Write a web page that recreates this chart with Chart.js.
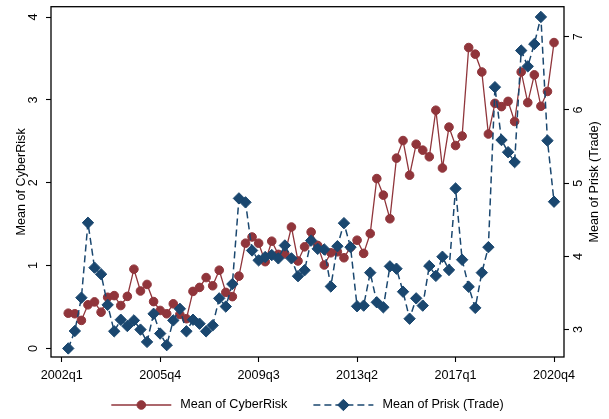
<!DOCTYPE html>
<html>
<head>
<meta charset="utf-8">
<script src="https://cdn.jsdelivr.net/npm/chart.js@4.4.1/dist/chart.umd.min.js"></script>
<style>
  html, body { margin: 0; padding: 0; background: #ffffff; }
  #wrap { width: 609px; height: 419px; }
</style>
</head>
<body>
<div id="wrap"><canvas id="chart" width="609" height="419"></canvas></div>
<script>
// Quarterly periods on the time axis (index 0 = 2002q1)
const quarters = [
  '2002q1','2002q2','2002q3','2002q4','2003q1','2003q2','2003q3','2003q4',
  '2004q1','2004q2','2004q3','2004q4','2005q1','2005q2','2005q3','2005q4',
  '2006q1','2006q2','2006q3','2006q4','2007q1','2007q2','2007q3','2007q4',
  '2008q1','2008q2','2008q3','2008q4','2009q1','2009q2','2009q3','2009q4',
  '2010q1','2010q2','2010q3','2010q4','2011q1','2011q2','2011q3','2011q4',
  '2012q1','2012q2','2012q3','2012q4','2013q1','2013q2','2013q3','2013q4',
  '2014q1','2014q2','2014q3','2014q4','2015q1','2015q2','2015q3','2015q4',
  '2016q1','2016q2','2016q3','2016q4','2017q1','2017q2','2017q3','2017q4',
  '2018q1','2018q2','2018q3','2018q4','2019q1','2019q2','2019q3','2019q4',
  '2020q1','2020q2','2020q3','2020q4'
];

// Labelled quarters on the x axis
const xTickLabels = ['2002q1','2005q4','2009q3','2013q2','2017q1','2020q4'];

// Mean of CyberRisk per quarter (no observation for 2002q1)
const cyberRisk = [
  null,
  0.425, 0.418, 0.338, 0.526, 0.561, 0.437, 0.617, 0.637, 0.517, 0.628,
  0.956, 0.693, 0.772, 0.565, 0.458, 0.418, 0.538, 0.410, 0.358, 0.688,
  0.736, 0.855, 0.756, 0.944, 0.676, 0.625, 0.872, 1.270, 1.345, 1.270,
  1.047, 1.294, 1.135, 1.142, 1.465, 1.055, 1.226, 1.405, 1.243, 1.007,
  1.154, 1.166, 1.094, 1.222, 1.306, 1.147, 1.386, 2.050, 1.850, 1.565,
  2.297, 2.509, 2.091, 2.465, 2.393, 2.313, 2.875, 2.178, 2.671, 2.449,
  2.564, 3.632, 3.552, 3.337, 2.588, 2.958, 2.919, 2.982, 2.739, 3.337,
  2.967, 3.302, 2.923, 3.102, 3.692
];

// Mean of Prisk (Trade) per quarter (no observation for 2002q1)
const priskTrade = [
  null,
  2.743, 2.981, 3.436, 4.459, 3.846, 3.757, 3.338, 2.977, 3.135, 3.049,
  3.126, 3.000, 2.832, 3.216, 2.946, 2.788, 3.126, 3.284, 2.977, 3.135,
  3.081, 2.977, 3.058, 3.427, 3.315, 3.622, 4.792, 4.738, 4.081, 3.946,
  3.991, 4.018, 3.973, 4.149, 3.973, 3.730, 3.811, 4.216, 4.103, 4.095,
  3.589, 4.139, 4.454, 4.126, 3.319, 3.328, 3.778, 3.373, 3.305, 3.864,
  3.832, 3.518, 3.149, 3.427, 3.328, 3.869, 3.734, 3.995, 3.815, 4.927,
  3.954, 3.585, 3.297, 3.778, 4.126, 6.311, 5.589, 5.423, 5.288, 6.811,
  6.595, 6.900, 7.270, 5.581, 4.747
];

// Axis tick values
const leftTicks = [0, 1, 2, 3, 4];
const rightTicks = [3, 4, 5, 6, 7];

const RED = '#90353B';
const BLUE = '#1A476F';
const FONT = '"Liberation Sans", Arial, Helvetica, sans-serif';
const FS = 12.6;

Chart.defaults.font.family = FONT;
Chart.defaults.font.size = FS;
Chart.defaults.color = '#000000';

const toPoints = arr => arr.map((v, i) => ({ x: i, y: v })).filter(p => p.y !== null);

const fixedTicks = list => scale => { scale.ticks = list.map(v => ({ value: v })); };

// Pin an axis box to a fixed thickness and drop the edge padding its labels ask for
const pinBox = size => s => {
  if (s.isHorizontal()) { s.height = size; } else { s.width = size; }
  s.paddingTop = 0; s.paddingBottom = 0; s.paddingLeft = 0; s.paddingRight = 0;
};

const tickGrid = {
  display: true,
  drawOnChartArea: false,
  drawTicks: true,
  tickLength: 5,
  tickWidth: 1.1,
  tickColor: '#000000'
};

// Frame around the plot region, axis titles and a line+marker legend
const decorations = {
  id: 'decorations',
  beforeDatasetsDraw(chart) {
    const { ctx, chartArea: a } = chart;
    ctx.save();
    ctx.strokeStyle = '#000000';
    ctx.lineWidth = 1.3;
    ctx.strokeRect(a.left, a.top, a.right - a.left, a.bottom - a.top);
    ctx.restore();
  },
  afterDraw(chart) {
    const { ctx, chartArea: a } = chart;
    const midY = (a.top + a.bottom) / 2;
    ctx.save();
    ctx.fillStyle = '#000000';
    ctx.font = FS + 'px ' + FONT;
    ctx.textAlign = 'center';
    ctx.textBaseline = 'middle';

    // Axis titles, both reading upward
    const yl = chart.scales.y;
    const yr = chart.scales.y1;
    [[yl.left + 22, 'Mean of CyberRisk'], [yr.right - 14, 'Mean of Prisk (Trade)']].forEach(([x, t]) => {
      ctx.save();
      ctx.translate(x, midY);
      ctx.rotate(-Math.PI / 2);
      ctx.fillText(t, 0, 0);
      ctx.restore();
    });

    // Legend, in series order
    const items = chart.data.datasets
      .slice()
      .sort((p, q) => p.legendRank - q.legendRank);
    const lineLen = 60, gapText = 9, gapItem = 26;
    const widths = items.map(d => ctx.measureText(d.label).width);
    const total = items.reduce((s, d, i) => s + lineLen + gapText + widths[i], 0) + gapItem * (items.length - 1);
    let x = (a.left + a.right) / 2 - total / 2;
    const ly = a.bottom + 48;
    items.forEach((d, i) => {
      ctx.save();
      ctx.strokeStyle = d.borderColor;
      ctx.lineWidth = d.borderWidth;
      ctx.setLineDash(d.borderDash || []);
      ctx.beginPath();
      ctx.moveTo(x, ly);
      ctx.lineTo(x + lineLen, ly);
      ctx.stroke();
      ctx.restore();

      ctx.save();
      ctx.fillStyle = d.pointBackgroundColor;
      ctx.strokeStyle = d.pointBorderColor;
      ctx.lineWidth = 1;
      Chart.helpers.drawPoint(ctx, { pointStyle: d.pointStyle, radius: d.pointRadius, borderWidth: 1 }, x + lineLen / 2, ly);
      ctx.restore();

      ctx.textAlign = 'left';
      ctx.fillStyle = '#000000';
      ctx.fillText(d.label, x + lineLen + gapText, ly);
      x += lineLen + gapText + widths[i] + gapItem;
    });
    ctx.restore();
  }
};

new Chart(document.getElementById('chart'), {
  type: 'line',
  data: {
    datasets: [
      {
        label: 'Mean of Prisk (Trade)',
        legendRank: 2,
        data: toPoints(priskTrade),
        yAxisID: 'y1',
        borderColor: BLUE,
        backgroundColor: BLUE,
        borderWidth: 1.5,
        borderDash: [7, 4],
        pointStyle: 'rectRot',
        pointRadius: 5.7,
        pointBackgroundColor: BLUE,
        pointBorderColor: BLUE,
        pointBorderWidth: 1,
        tension: 0,
        order: 0
      },
      {
        label: 'Mean of CyberRisk',
        legendRank: 1,
        data: toPoints(cyberRisk),
        yAxisID: 'y',
        borderColor: RED,
        backgroundColor: RED,
        borderWidth: 1.3,
        pointStyle: 'circle',
        pointRadius: 4.3,
        pointBackgroundColor: RED,
        pointBorderColor: RED,
        pointBorderWidth: 1,
        tension: 0,
        order: 1
      }
    ]
  },
  options: {
    responsive: false,
    devicePixelRatio: 1,
    animation: false,
    events: [],
    layout: { padding: { top: 3, bottom: 32, left: 0, right: 0 } },
    plugins: {
      legend: { display: false },
      tooltip: { enabled: false }
    },
    scales: {
      x: {
        type: 'linear',
        position: 'bottom',
        min: -1.63,
        max: 76.52,
        afterBuildTicks: fixedTicks(xTickLabels.map(l => quarters.indexOf(l))),
        afterFit: pinBox(30),
        ticks: {
          autoSkip: false,
          maxRotation: 0,
          padding: 6,
          color: '#000000',
          callback: v => quarters[v]
        },
        grid: tickGrid,
        border: { display: false }
      },
      y: {
        type: 'linear',
        position: 'left',
        min: -0.104,
        max: 4.125,
        afterBuildTicks: fixedTicks(leftTicks),
        afterFit: pinBox(51),
        ticks: {
          minRotation: 90,
          maxRotation: 90,
          crossAlign: 'center',
          padding: 9,
          color: '#000000',
          callback: v => String(v)
        },
        grid: tickGrid,
        border: { display: false }
      },
      y1: {
        type: 'linear',
        position: 'right',
        min: 2.626,
        max: 7.41,
        afterBuildTicks: fixedTicks(rightTicks),
        afterFit: pinBox(45),
        ticks: {
          minRotation: 90,
          maxRotation: 90,
          crossAlign: 'center',
          padding: 6,
          color: '#000000',
          callback: v => String(v)
        },
        grid: tickGrid,
        border: { display: false }
      }
    }
  },
  plugins: [decorations]
});
</script>
</body>
</html>
